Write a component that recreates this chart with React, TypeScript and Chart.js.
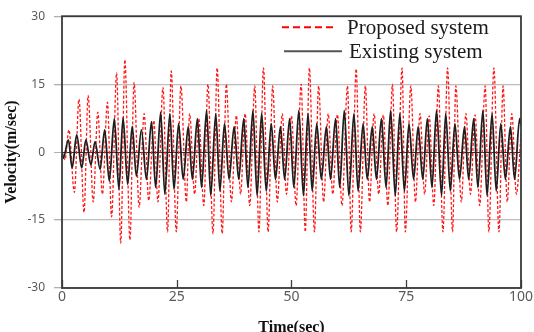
import React, { useEffect, useRef } from "react";
import { Chart, registerables } from "chart.js";

Chart.register(...registerables);

// Proposed system (red dashed): successive extrema (time in sec, velocity in m/sec)
const proposedTime = [
  0, 0.65, 1.5, 2.7, 3.7, 4.8, 5.7, 6.8, 7.8, 8.8, 9.9, 10.8, 11.9, 12.8, 13.7, 14.8, 15.7, 16.8, 17.9, 18.9,
  20.0, 20.9, 22.0, 23.0, 23.8, 24.9, 25.9, 27.1, 27.8, 28.9, 29.8, 30.9, 31.8, 32.9, 33.8, 34.9, 35.8, 36.9, 38.0, 38.9,
  39.9, 40.9, 42.0, 42.9, 43.9, 44.9, 45.9, 46.9, 48.0, 48.9, 50.0, 51.0, 52.1, 53.0, 53.9, 55.0, 55.9, 57.0, 58.0, 59.0,
  60.0, 61.0, 62.2, 63.0, 64.1, 65.0, 66.1, 67.0, 68.0, 69.0, 70.0, 71.0, 72.0, 72.9, 74.1, 74.8, 76.0, 77.0, 78.0, 79.0,
  80.0, 81.0, 82.0, 83.0, 84.0, 85.1, 85.8, 87.0, 88.0, 89.0, 90.0, 91.0, 92.2, 93.0, 94.1, 95.2, 96.1, 97.0, 98.0, 99.0,
  100,
];
const proposedVelocity = [
  0, -1.7, 4.9, -8.9, 11.7, -13.3, 12.5, -11, 8.8, -9.3, 11, -14.3, 17.5, -20.1, 20.4, -19.4, 15.4, -12.2, 8.5, -10.7,
  7.0, -11, 14.3, -17.6, 17.9, -17.6, 14.6, -11, 8.5, -9.3, 7.4, -11.8, 15, -18, 18.6, -18, 15, -11, 8.1, -9.3,
  8.5, -11.8, 14.6, -17.6, 18.6, -17.6, 14.6, -11, 8.5, -9.3, 8.0, -11.8, 15, -17.6, 18.6, -17.6, 14.6, -11, 8.5, -9.3,
  8.3, -11.8, 14.6, -17.6, 18.4, -17.6, 14.6, -11, 8.5, -9.3, 8.2, -11.8, 15, -17.6, 18.6, -17.6, 14.6, -11, 8.5, -9.3,
  8.0, -11.8, 14.6, -17.6, 18.6, -17.6, 14.6, -11, 8.5, -9.3, 8.2, -11.8, 14.6, -17.6, 18.6, -17.6, 14.6, -11, 8.5, -9.3,
  4,
];

// Existing system (black solid): successive extrema
const existingTime = [
  0, 0.3, 1.4, 2.2, 3.2, 4.3, 5.2, 6.3, 7.2, 8.3, 9.3, 10.3, 11.4, 12.4, 13.3, 14.3, 15.3, 16.2, 17.3, 18.4,
  19.5, 20.4, 21.5, 22.4, 23.5, 24.4, 25.4, 26.4, 27.5, 28.4, 29.5, 30.4, 31.5, 32.4, 33.5, 34.4, 35.4, 36.4, 37.5, 38.5,
  39.6, 40.5, 41.6, 42.5, 43.5, 44.5, 45.6, 46.5, 47.6, 48.5, 49.6, 50.5, 51.6, 52.6, 53.6, 54.5, 55.5, 56.5, 57.6, 58.5,
  59.6, 60.5, 61.5, 62.5, 63.6, 64.5, 65.6, 66.5, 67.6, 68.5, 69.6, 70.6, 71.6, 72.6, 73.6, 74.6, 75.6, 76.6, 77.6, 78.6,
  79.6, 80.6, 81.6, 82.7, 83.6, 84.6, 85.6, 86.6, 87.7, 88.6, 89.7, 90.6, 91.7, 92.6, 93.7, 94.6, 95.6, 96.6, 97.7, 98.6,
  99.7, 100,
];
const existingVelocity = [
  0, -1.3, 2.7, -3.5, 3.8, -3.5, 2.7, -2.8, 2.3, -3.8, 4.9, -6.4, 7.4, -8.2, 7.6, -7.1, 5.7, -5.3, 4.9, -6,
  6.7, -7.8, 8.8, -9.3, 8.5, -8.2, 6.3, -6, 5.6, -6, 7.4, -7.8, 9.2, -9.6, 8.5, -8.6, 6.3, -6, 5.6, -6,
  7.4, -7.8, 9.2, -9.6, 8.6, -8.6, 6.3, -6, 5.6, -6, 7.4, -7.8, 9.2, -9.6, 8.5, -8.6, 6.3, -6, 5.6, -6,
  7.4, -7.8, 9.2, -9.6, 8.5, -8.6, 6.3, -6, 5.6, -6, 7.4, -7.8, 9.2, -9.6, 8.5, -8.6, 6.3, -6, 5.6, -6,
  7.4, -7.8, 9.2, -9.6, 8.5, -8.6, 6.3, -6, 5.6, -6, 7.4, -7.8, 9.2, -9.6, 8.5, -8.6, 6.3, -6, 5.6, -6,
  7.4, 6,
];

const seriesLabels = ["Proposed system", "Existing system"];
const xTickValues = [0, 25, 50, 75, 100];
const yTickValues = [-30, -15, 0, 15, 30];
const xTitle = "Time(sec)";
const yTitle = "Velocity(m/sec)";

const framePlugin = {
  id: "frameAndLegend",
  afterDraw(chart: any) {
    const { ctx, chartArea, scales } = chart;
    const { left, right, top, bottom } = chartArea;
    ctx.save();
    // inner x ticks
    ctx.strokeStyle = "#404040";
    ctx.lineWidth = 1.3;
    xTickValues.forEach((v) => {
      const px = Math.round(scales.x.getPixelForValue(v)) + 0.5;
      ctx.beginPath();
      ctx.moveTo(px, bottom);
      ctx.lineTo(px, bottom - 8);
      ctx.stroke();
    });
    // frame
    ctx.strokeStyle = "#3a3a3a";
    ctx.lineWidth = 1.8;
    ctx.strokeRect(left, top, right - left, bottom - top);

    // legend
    const lx0 = right - 239;
    const lx1 = right - 184;
    const ty = top + 11;
    ctx.lineWidth = 2;
    ctx.strokeStyle = "#ff0000";
    ctx.setLineDash([7, 4]);
    ctx.beginPath();
    ctx.moveTo(lx0, ty);
    ctx.lineTo(lx1, ty);
    ctx.stroke();
    ctx.setLineDash([]);
    ctx.strokeStyle = "#555555";
    ctx.beginPath();
    ctx.moveTo(lx0 + 2, ty + 24);
    ctx.lineTo(lx1 + 5, ty + 24);
    ctx.stroke();
    ctx.fillStyle = "#1a1a1a";
    ctx.font = "21px 'Liberation Serif'";
    ctx.textBaseline = "middle";
    ctx.textAlign = "left";
    ctx.fillText(seriesLabels[0], right - 174, ty + 1);
    ctx.fillText(seriesLabels[1], right - 172, ty + 25);
    ctx.restore();
  },
};

export default function App() {
  const ref = useRef<HTMLCanvasElement | null>(null);
  useEffect(() => {
    document.body.style.margin = "0";
    const canvas = ref.current;
    if (!canvas) return;
    const proposed = proposedTime.map((t, i) => ({ x: t, y: proposedVelocity[i] }));
    const existing = existingTime.map((t, i) => ({ x: t, y: existingVelocity[i] }));
    const chart = new Chart(canvas, {
      type: "line",
      data: {
        datasets: [
          {
            label: seriesLabels[1],
            data: existing,
            borderColor: "#1e1e1e",
            borderWidth: 1.8,
            pointRadius: 0,
            cubicInterpolationMode: "monotone",
            order: 0,
          },
          {
            label: seriesLabels[0],
            data: proposed,
            borderColor: "#ff1a1a",
            borderWidth: 1.3,
            borderDash: [3, 2],
            pointRadius: 0,
            cubicInterpolationMode: "monotone",
            order: 1,
          },
        ],
      },
      options: {
        responsive: false,
        animation: false,
        layout: { padding: { left: 0, top: 11, right: 12, bottom: 0 } },
        plugins: { legend: { display: false }, tooltip: { enabled: false } },
        scales: {
          x: {
            type: "linear",
            min: 0,
            max: 100,
            afterBuildTicks: (s: any) => {
              s.ticks = xTickValues.map((v) => ({ value: v }));
            },
            afterFit: (s: any) => {
              s.height = 44;
            },
            grid: { display: false, drawTicks: false },
            border: { display: false },
            ticks: {
              color: "#595959",
              font: { family: "'Noto Sans'", size: 14 },
              padding: 1,
              maxRotation: 0,
            },
            title: {
              display: true,
              text: xTitle,
              color: "#111",
              font: { family: "'Liberation Serif'", size: 16, weight: "bold" },
              padding: { top: 0, bottom: -5.5 },
            },
          },
          y: {
            type: "linear",
            min: -30,
            max: 30,
            afterBuildTicks: (s: any) => {
              s.ticks = yTickValues.map((v) => ({ value: v }));
            },
            afterFit: (s: any) => {
              s.width = 62;
            },
            grid: {
              color: (c: any) => (c.tick && c.tick.value === 0 ? "#303030" : "#bdbdbd"),
              lineWidth: (c: any) => (c.tick && c.tick.value === 0 ? 1 : 1.3),
              tickLength: 8,
              tickColor: "#b0b0b0",
            },
            border: { display: false },
            ticks: {
              color: "#595959",
              font: { family: "'Noto Sans'", size: 12 },
              padding: 9,
            },
            title: {
              display: true,
              text: yTitle,
              color: "#111",
              font: { family: "'Liberation Serif'", size: 16, weight: "bold" },
              padding: { top: 2.4, bottom: 0 },
            },
          },
        },
      },
      plugins: [framePlugin],
    });
    return () => chart.destroy();
  }, []);
  return (
    <div style={{ width: 534, height: 332 }}>
      <canvas ref={ref} width={534} height={332} style={{ display: "block", width: 534, height: 332 }} />
    </div>
  );
}
